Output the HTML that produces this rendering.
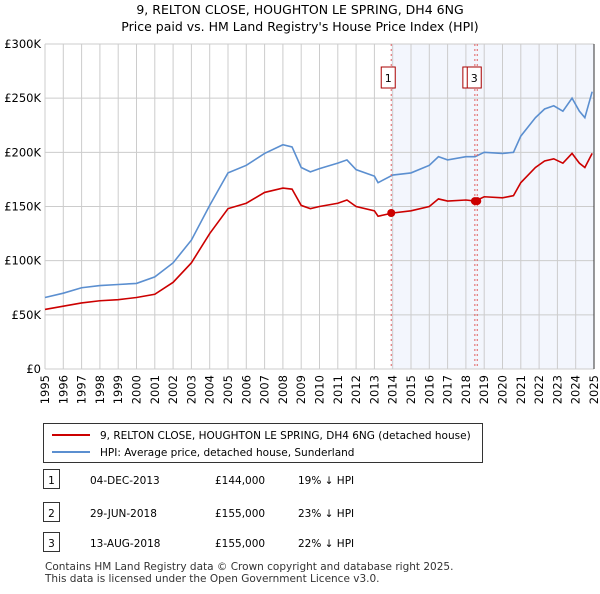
<!DOCTYPE html>
<html><head><meta charset="utf-8"><style>
body{margin:0;background:#fff;font-family:"DejaVu Sans","Liberation Sans",sans-serif;}
svg text{font-family:"DejaVu Sans","Liberation Sans",sans-serif;}
</style></head><body>
<svg width="600" height="590" xmlns="http://www.w3.org/2000/svg">
<text x="300" y="14" text-anchor="middle" font-size="12.5">9, RELTON CLOSE, HOUGHTON LE SPRING, DH4 6NG</text>
<text x="300" y="31" text-anchor="middle" font-size="12.5">Price paid vs. HM Land Registry's House Price Index (HPI)</text>
<g id="plot"></g>
<g id="legend">
<rect x="43.5" y="423.5" width="439" height="39" fill="#fff" stroke="#333"/>
<line x1="52" y1="435" x2="90" y2="435" stroke="#cc0000" stroke-width="2"/>
<text x="100" y="439" font-size="10.5">9, RELTON CLOSE, HOUGHTON LE SPRING, DH4 6NG (detached house)</text>
<line x1="52" y1="452" x2="90" y2="452" stroke="#5b8fd0" stroke-width="2"/>
<text x="100" y="456" font-size="10.5">HPI: Average price, detached house, Sunderland</text>
</g>
<g id="table" font-size="10.5"></g>
<text x="45" y="570" font-size="10.5" fill="#333">Contains HM Land Registry data © Crown copyright and database right 2025.</text>
<text x="45" y="582" font-size="10.5" fill="#333">This data is licensed under the Open Government Licence v3.0.</text>
</svg>
<script>
const years=[1995,1996,1997,1998,1999,2000,2001,2002,2003,2004,2005,2006,2007,2008,2008.5,2009,2009.5,2010,2011,2011.5,2012,2013,2013.2,2014,2015,2016,2016.5,2017,2018,2018.5,2019,2020,2020.6,2021,2021.8,2022.3,2022.8,2023.3,2023.8,2024.2,2024.5,2024.9];
const hpi=[66,70,75,77,78,79,85,98,119,151,181,188,199,207,205,186,182,185,190,193,184,178,172,179,181,188,196,193,196,196,200,199,200,215,232,240,243,238,250,238,232,256];
const price=[55,58,61,63,64,66,69,80,98,125,148,153,163,167,166,151,148,150,153,156,150,146,141,144,146,150,157,155,156,155,159,158,160,172,186,192,194,190,199,190,186,199];
const yTicks=[0,50000,100000,150000,200000,250000,300000];
const yLabels=["£0","£50K","£100K","£150K","£200K","£250K","£300K"];
const saleIds=["1","2","3"];
const saleDates=["04-DEC-2013","29-JUN-2018","13-AUG-2018"];
const saleYears=[2013.92,2018.49,2018.62];
const salePrices=[144000,155000,155000];
const saleHpi=["19% ↓ HPI","23% ↓ HPI","22% ↓ HPI"];
const X0=45,X1=594,Y0=369,Y1=44;
const xs=y=>X0+(y-1995)/30*(X1-X0);
const ys=v=>Y0-v/300000*(Y0-Y1);
const NS="http://www.w3.org/2000/svg";
const plot=document.getElementById('plot');
function mk(tag,attrs,parent){const e=document.createElementNS(NS,tag);for(const k in attrs)e.setAttribute(k,attrs[k]);(parent||plot).appendChild(e);return e;}
let sh=mk('rect',{x:xs(saleYears[0]),y:Y1,width:X1-xs(saleYears[0]),height:Y0-Y1,fill:'#eef2fc',opacity:0.7});


for(let yr=1995;yr<=2025;yr++){
 let l=mk('line',{x1:xs(yr),x2:xs(yr),y1:Y1,y2:Y0,stroke:'#cccccc'});
 
 
 const tx=xs(yr)+4, ty=Y0+6;
 let t=mk('text',{x:tx,y:ty,'text-anchor':'end','font-size':11.5,transform:`rotate(-90 ${tx} ${ty})`});
 t.textContent=yr;
 
 
}
yTicks.forEach((v,i)=>{
 let l=mk('line',{x1:X0,x2:X1,y1:ys(v),y2:ys(v),stroke:'#cccccc'});
 
 
 let t=mk('text',{x:X0-4,y:ys(v)+4,'text-anchor':'end','font-size':11.5});
 t.textContent=yLabels[i];
 
 
});
let hp=mk('polyline',{points:years.map((y,i)=>xs(y)+','+ys(hpi[i]*1000)).join(' '),fill:'none',stroke:'#5b8fd0','stroke-width':1.6});


saleYears.forEach((y,i)=>{
 let l=mk('line',{x1:xs(y),x2:xs(y),y1:Y1,y2:Y0,stroke:'#e06060','stroke-dasharray':'2,3'});
 
 
});
let pp=mk('polyline',{points:years.map((y,i)=>xs(y)+','+ys(price[i]*1000)).join(' '),fill:'none',stroke:'#cc0000','stroke-width':1.6});


saleYears.forEach((y,i)=>{
 let d=mk('circle',{cx:xs(y),cy:ys(salePrices[i]),r:4,fill:'#cc0000'});
 
 
 const bx=i==1?xs(y)-12:xs(y)-10;
 let r=mk('rect',{x:bx,y:67,width:14,height:21,fill:'#fff',stroke:'#aa0000'});
 
 
 if(i!=1){let t=mk('text',{x:bx+7,y:82,'text-anchor':'middle','font-size':11});
 t.textContent=saleIds[i];
 
 }
});
let ax=mk('line',{x1:X1,x2:X1,y1:Y1,y2:Y0,stroke:'#333'});


const tb=document.getElementById('table');
const rowY=[482,515,545];
saleIds.forEach((id,i)=>{
 let r=mk('rect',{x:43.5,y:rowY[i]-12.5,width:16,height:19,fill:'#fff',stroke:'#333'},tb);
 
 
 const cells=[[51.5,id,'middle'],[90,saleDates[i],'start'],[215,'£'+salePrices[i].toLocaleString('en-GB'),'start'],[298,saleHpi[i],'start']];
 cells.forEach(c=>{let t=mk('text',{x:c[0],y:rowY[i]+2,'text-anchor':c[2]},tb);t.textContent=c[1];
 
 });
});
</script>
</body></html>
